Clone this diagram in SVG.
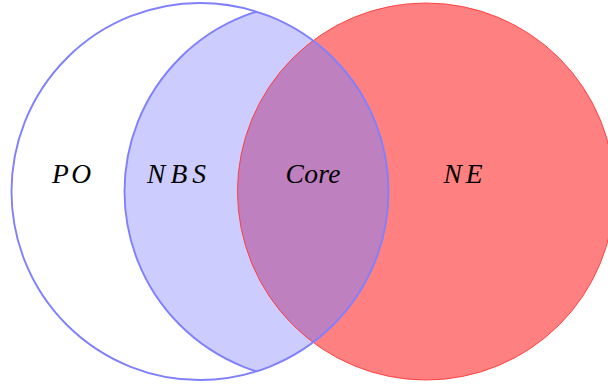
<svg xmlns="http://www.w3.org/2000/svg" width="608" height="385" viewBox="0 0 608 385">
  <style>
    .lbl { font-family: "Liberation Serif", "DejaVu Serif", serif; font-style: italic; font-size: 27.5px; fill: #000; text-anchor: middle; }
    .blueline { fill: none; stroke: #8080ff; stroke-width: 1.9; }
    .redline { fill: none; stroke: #ff3a3a; stroke-width: 0.9; }
  </style>
  <defs>
    <clipPath id="clipPO"><circle cx="200" cy="191.5" r="188.5"/></clipPath>
  </defs>
  <rect x="0" y="0" width="608" height="385" fill="#ffffff"/>
  <g id="NBS">
    <circle cx="313" cy="191.5" r="188.5" fill="#ccccff" clip-path="url(#clipPO)"/>
  </g>
  <g id="NE">
    <circle cx="426" cy="191.5" r="188.5" fill="#ff8080"/>
  </g>
  <g id="Core">
    <circle cx="426" cy="191.5" r="188.5" fill="#bf80bf" clip-path="url(#clipPO)"/>
  </g>
  <g id="outlines">
    <circle class="redline" cx="426" cy="191.5" r="188.5"/>
    <circle class="blueline" cx="313" cy="191.5" r="188.5" clip-path="url(#clipPO)"/>
    <circle id="PO" class="blueline" cx="200" cy="191.5" r="188.5"/>
  </g>
  <g id="connectors"/>
  <g id="labels">
    <text class="lbl" x="71.5" y="182.5" textLength="39" lengthAdjust="spacing">PO</text>
    <text class="lbl" x="176.5" y="183" textLength="59" lengthAdjust="spacing">NBS</text>
    <text class="lbl" x="313" y="182.5" textLength="55" lengthAdjust="spacing">Core</text>
    <text class="lbl" x="463" y="182.5" textLength="39" lengthAdjust="spacing">NE</text>
  </g>
</svg>
